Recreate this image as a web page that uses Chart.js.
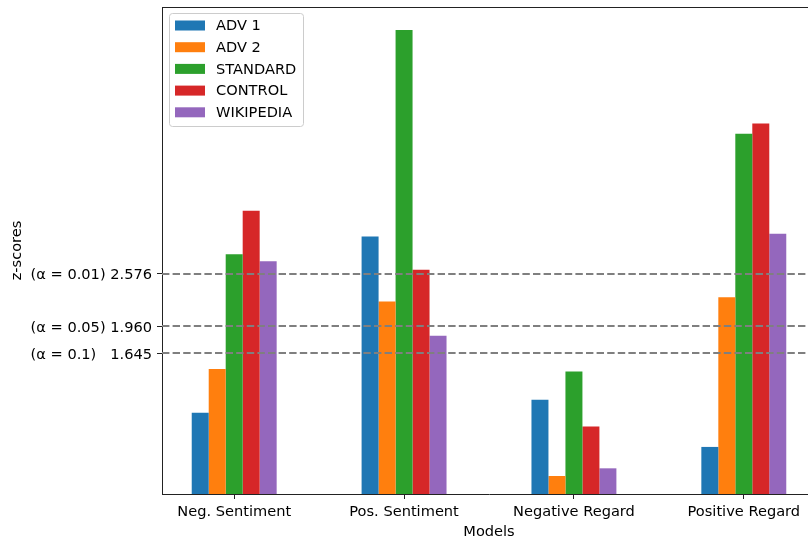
<!DOCTYPE html>
<html>
<head>
<meta charset="utf-8">
<script src="https://cdn.jsdelivr.net/npm/chart.js@4/dist/chart.umd.min.js"></script>
<style>
  html, body { margin: 0; padding: 0; background: #fff; overflow: hidden; }
  #wrap { width: 808px; height: 540px; overflow: hidden; }
</style>
</head>
<body>
<div id="wrap"><canvas id="c" width="830" height="540"></canvas></div>
<script>
const categories = ['Neg. Sentiment', 'Pos. Sentiment', 'Negative Regard', 'Positive Regard'];
const seriesNames = ['ADV 1', 'ADV 2', 'STANDARD', 'CONTROL', 'WIKIPEDIA'];
const adv1 = [0.95, 3.01, 1.10, 0.55];
const adv2 = [1.46, 2.25, 0.21, 2.30];
const standard = [2.80, 5.42, 1.43, 4.21];
const control = [3.31, 2.62, 0.79, 4.33];
const wikipedia = [2.72, 1.85, 0.30, 3.04];
const thresholds = [2.576, 1.960, 1.645];
const thresholdLabels = ['(α = 0.01) 2.576', '(α = 0.05) 1.960', '(α = 0.1)   1.645'];
const colors = ['#1f77b4', '#ff7f0e', '#2ca02c', '#d62728', '#9467bd'];

const font = { family: 'DejaVu Sans', size: 14.6 };
const series = [adv1, adv2, standard, control, wikipedia];

const extras = {
  id: 'extras',
  afterDatasetsDraw(chart) {
    const { ctx, chartArea: a, scales: { y } } = chart;
    ctx.save();
    // dashed threshold lines
    ctx.strokeStyle = '#7f7f7f';
    ctx.lineWidth = 2;
    ctx.setLineDash([7.4, 3.2]);
    thresholds.forEach(t => {
      const py = Math.round(y.getPixelForValue(t));
      ctx.beginPath(); ctx.moveTo(a.left, py); ctx.lineTo(a.right, py); ctx.stroke();
    });
    ctx.setLineDash([]);
    // top spine
    ctx.strokeStyle = '#222';
    ctx.lineWidth = 1;
    ctx.beginPath(); ctx.moveTo(a.left, Math.round(a.top) + 0.5); ctx.lineTo(a.right, Math.round(a.top) + 0.5); ctx.stroke();
    // legend
    const lx = 169, ly = 13, lw = 134, lh = 113;
    ctx.fillStyle = 'rgba(255,255,255,0.8)';
    ctx.strokeStyle = '#cccccc';
    ctx.beginPath();
    ctx.roundRect(lx + 0.5, ly + 0.5, lw, lh, 3);
    ctx.fill(); ctx.stroke();
    ctx.font = font.size + 'px ' + font.family;
    ctx.textBaseline = 'middle';
    seriesNames.forEach((n, i) => {
      const cy = 25.5 + i * 21.7;
      ctx.fillStyle = colors[i];
      ctx.fillRect(175, cy - 5, 30, 10);
      ctx.fillStyle = '#000';
      ctx.fillText(n, 216, cy + 1);
    });
    ctx.restore();
  }
};

new Chart(document.getElementById('c'), {
  type: 'bar',
  data: {
    datasets: series.map((s, i) => ({
      label: seriesNames[i],
      data: s.map((v, j) => ({ x: j, y: v })),
      backgroundColor: colors[i],
      borderWidth: 0,
      categoryPercentage: 0.5,
      barPercentage: 1.0
    }))
  },
  options: {
    responsive: false,
    animation: false,
    layout: { padding: { top: 7, right: 14, left: 0, bottom: 0 } },
    plugins: { legend: { display: false }, tooltip: { enabled: false } },
    scales: {
      x: {
        type: 'linear',
        offset: false,
        min: -0.425,
        max: 3.425,
        afterBuildTicks: s => { s.ticks = categories.map((c, i) => ({ value: i })); },
        afterFit: s => { s.height = 46; s.paddingLeft = 0; s.paddingRight = 0; },
        ticks: {
          callback: v => categories[v],
          color: '#000',
          font: font,
          padding: 4,
          maxRotation: 0,
          autoSkip: false
        },
        grid: { offset: false, drawOnChartArea: false, tickLength: 5, color: '#222', tickWidth: 1 },
        border: { color: '#222', width: 1 },
        title: { display: true, text: 'Models', color: '#000', font: font, padding: { top: 0, bottom: -1 } }
      },
      y: {
        min: 0,
        max: 5.69,
        afterBuildTicks: s => { s.ticks = thresholds.map(t => ({ value: t })); },
        afterFit: s => { s.width = 162; s.paddingTop = 0; s.paddingBottom = 0; },
        ticks: {
          callback: v => thresholdLabels[thresholds.indexOf(v)],
          color: '#000',
          font: font,
          padding: 5,
          labelOffset: 2
        },
        grid: { drawOnChartArea: false, tickLength: 5, color: '#222', tickWidth: 1 },
        border: { color: '#222', width: 1 },
        title: { display: true, text: 'z-scores', color: '#000', font: font, padding: { top: 8, bottom: 4 } }
      }
    }
  },
  plugins: [extras]
});
</script>
</body>
</html>
